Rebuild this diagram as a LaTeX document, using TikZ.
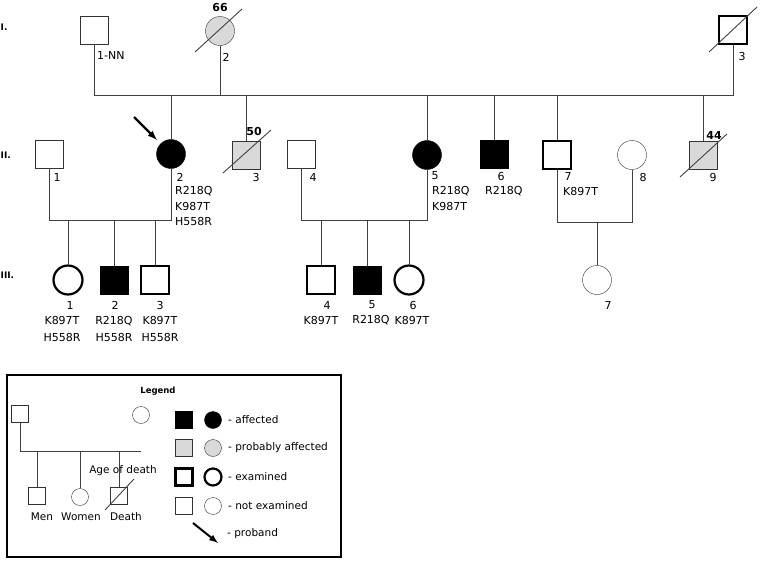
\documentclass[tikz,border=0pt]{standalone}
\usepackage{fontspec}
\setmainfont{DejaVu Sans}
\usepackage{tikz}

\begin{document}
\begin{tikzpicture}[x=1pt,y=-1pt]
\tikzstyle{every node}=[font=\fontsize{11}{12}\selectfont,inner sep=0pt]
\tikzstyle{man}=[draw=black!80,rectangle,minimum size=28pt]
\tikzstyle{woman}=[draw=black!80,circle,minimum size=29pt]
\tikzstyle{small}=[minimum size=17pt]
\tikzstyle{aff}=[fill=black,draw=black]
\tikzstyle{prob}=[fill=black!15]
\tikzstyle{exam}=[draw=black,line width=2.2pt]
\tikzstyle{plain}=[]
\tikzstyle{wire}=[draw=black!75,line width=0.9pt]
\tikzstyle{age}=[font=\bfseries\fontsize{11}{12}\selectfont]
\tikzstyle{gen}=[font=\bfseries\fontsize{9}{10}\selectfont,anchor=west]
\tikzstyle{mut}=[align=left,anchor=west,font=\fontsize{11}{15.5}\selectfont]
\tikzstyle{mutc}=[align=center,font=\fontsize{11}{17}\selectfont]
\tikzstyle{lg}=[font=\fontsize{10.5}{12}\selectfont]
\useasboundingbox (0,0) rectangle (760,562);
\node[gen] (gI) at (0.5,27) {I.};
\node[gen] (gII) at (0.5,155) {II.};
\node[gen] (gIII) at (0.5,275) {III.};
\node[man] (I1) at (94,30) {};
\node[woman,prob] (I2) at (220,31) {};
\node[man,exam] (I3) at (733,30) {};
\node[man] (II1) at (49,154) {};
\node[woman,aff] (II2) at (171,154) {};
\node[man,prob] (II3) at (246,155) {};
\node[man] (II4) at (301,154) {};
\node[woman,aff] (II5) at (427,155) {};
\node[man,aff] (II6) at (494,154) {};
\node[man,exam] (II7) at (557,155) {};
\node[woman] (II8) at (632,155) {};
\node[man,prob] (II9) at (703,155) {};
\node[woman,exam] (III1) at (68,280) {};
\node[man,aff] (III2) at (114,280) {};
\node[man,exam] (III3) at (155,280) {};
\node[man,exam] (III4) at (321,280) {};
\node[man,aff] (III5) at (367,280) {};
\node[woman,exam] (III6) at (409,280) {};
\node[woman] (III7) at (597,280) {};
\coordinate (sib) at (0,95);
\coordinate (m1) at (0,220);
\coordinate (m2) at (0,222);
\draw[wire] (I1) -- (I1 |- sib) -- (I3 |- sib) -- (I3);
\draw[wire] (I2) -- (I2 |- sib);
\foreach \n in {II2,II3,II5,II6,II7,II9} \draw[wire] (\n |- sib) -- (\n);
\draw[wire] (II1) -- (II1 |- m1) -- (II2 |- m1) -- (II2);
\foreach \n in {III1,III2,III3} \draw[wire] (\n |- m1) -- (\n);
\draw[wire] (II4) -- (II4 |- m1) -- (II5 |- m1) -- (II5);
\foreach \n in {III4,III5,III6} \draw[wire] (\n |- m1) -- (\n);
\draw[wire] (II7) -- (II7 |- m2) -- (II8 |- m2) -- (II8);
\draw[wire] (III7 |- m2) -- (III7);
\draw[wire] (I2.center) +(-25,21) -- +(22,-22);
\draw[wire] (I3.center) +(-24,22) -- +(24,-23);
\draw[wire] (II3.center) +(-23,18) -- +(25,-25);
\draw[wire] (II9.center) +(-23,22) -- +(24,-21);
\node[anchor=west] (nI1) at (97,55) {1-NN};
\node (nI2) at (226,57) {2};
\node (nI3) at (742,56) {3};
\node[age] (dI2) at (220,8) {66};
\node (nII1) at (57,177) {1};
\node (nII2) at (180,177) {2};
\node[mut] (gII2) at (175,206) {R218Q\\K987T\\H558R};
\node (nII3) at (256,177) {3};
\node[age] (dII3) at (254,131) {50};
\node (nII4) at (313,177) {4};
\node (nII5) at (435,176) {5};
\node[mut] (gII5) at (432,198.5) {R218Q\\K987T};
\node (nII6) at (501,176) {6};
\node[mut] (gII6) at (485,191) {R218Q};
\node (nII7) at (568,176) {7};
\node[mut] (gII7) at (563,191) {K897T};
\node (nII8) at (643,177) {8};
\node (nII9) at (713,177) {9};
\node[age] (dII9) at (714,135) {44};
\node (nIII1) at (70,305) {1};
\node[mutc] (gIII1) at (62,329) {K897T\\H558R};
\node (nIII2) at (115,305) {2};
\node[mutc] (gIII2) at (114,329) {R218Q\\H558R};
\node (nIII3) at (160,305) {3};
\node[mutc] (gIII3) at (160,329) {K897T\\H558R};
\node (nIII4) at (327,305) {4};
\node[mutc] (gIII4) at (321,320) {K897T};
\node (nIII5) at (372,305) {5};
\node[mutc] (gIII5) at (371,320) {R218Q};
\node (nIII6) at (413,305) {6};
\node[mutc] (gIII6) at (412,320) {K897T};
\node (nIII7) at (608,305) {7};
\coordinate (pa) at (134,117);
\coordinate (pb) at (157,140);
\draw[line width=2.2pt,-latex] (pa) -- (pb);
\draw[line width=1.6pt] (7,375) rectangle (341,557);
\node[font=\bfseries\fontsize{8.5}{10}\selectfont] (ltitle) at (158,391) {Legend};
\node[man,small] (LM) at (20,414) {};
\node[woman,small] (LW) at (141,415) {};
\coordinate (lbar) at (0,451);
\draw[wire] (LM) -- (LM |- lbar) -- (LW |- lbar);
\node[man,small] (Lmen) at (37,496) {};
\node[woman,small] (Lwomen) at (80,497) {};
\node[man,small] (Ldeath) at (119,496) {};
\foreach \n in {Lmen,Lwomen,Ldeath} \draw[wire] (\n |- lbar) -- (\n);
\draw[wire] (Ldeath.center) +(-14,14) -- +(15,-17);
\node[lg] (tage) at (123,471) {Age of death};
\node[lg] (tmen) at (42,517) {Men};
\node[lg] (twomen) at (81,517) {Women};
\node[lg] (tdeath) at (126,517) {Death};
\foreach \y/\st/\txt/\k in {420/aff/affected/a,448/prob/probably affected/b,477/exam/examined/c,506/plain/not examined/d}
{
\node[man,small,\st] (ks\k) at (184,\y) {};
\node[woman,small,\st] (kc\k) at (213,\y) {};
\node[lg,anchor=west] (kt\k) at (228,\y) {- \txt};
}
\coordinate (ka) at (193,523);
\coordinate (kb) at (218,543);
\draw[line width=2pt,-latex] (ka) -- (kb);
\node[lg,anchor=west] (kp) at (227,534) {- proband};
\end{tikzpicture}
\end{document}
